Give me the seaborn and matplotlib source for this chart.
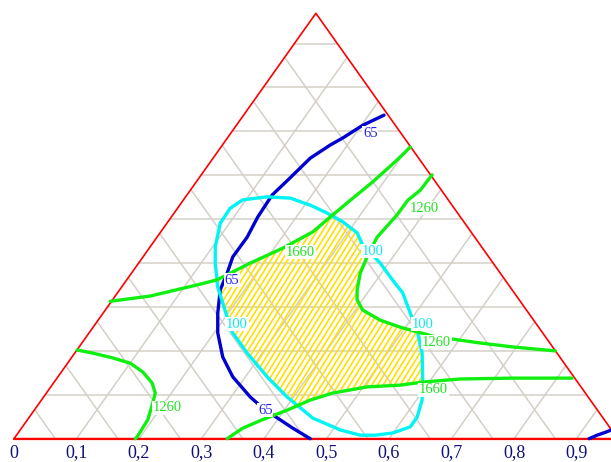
import numpy as np
import matplotlib
matplotlib.use("Agg")
import matplotlib.pyplot as plt
import seaborn as sns
import pandas as pd
from matplotlib.patches import Polygon
from matplotlib.collections import LineCollection

# ---------------- data (x = base scale 0..1, h = fraction of the grid height) ----
tri_x = [0.0, 0.966, 0.483]
tri_h = [0.0, 0.0, 0.969]

grid_levels = [0.1, 0.2, 0.3, 0.4, 0.5, 0.6, 0.7, 0.8, 0.9]
tick_values = [0.0, 0.1, 0.2, 0.3, 0.4, 0.5, 0.6, 0.7, 0.8, 0.9]
tick_labels = ["0", "0,1", "0,2", "0,3", "0,4", "0,5", "0,6", "0,7", "0,8", "0,9"]

# contour 65 (blue)
c65_main_x = [0.592, 0.558, 0.526, 0.506, 0.474, 0.438, 0.413, 0.390, 0.373, 0.350,
              0.341, 0.330, 0.326, 0.326, 0.334, 0.350, 0.378, 0.402, 0.426, 0.446, 0.474]
c65_main_h = [0.737, 0.714, 0.685, 0.669, 0.639, 0.589, 0.555, 0.505, 0.459, 0.414,
              0.377, 0.339, 0.286, 0.241, 0.186, 0.141, 0.095, 0.065, 0.043, 0.024, 0.0]
c65_corner_x = [0.920, 0.933, 0.947, 0.956]
c65_corner_h = [0.0, 0.008, 0.015, 0.020]

# contour 100 (cyan), closed loop
c100_x = [0.341, 0.334, 0.326, 0.322, 0.322, 0.330, 0.346, 0.366, 0.405, 0.442, 0.474,
          0.501, 0.526, 0.549, 0.558, 0.586, 0.606, 0.622, 0.634, 0.646, 0.653, 0.654,
          0.653, 0.645, 0.634, 0.606, 0.578, 0.554, 0.522, 0.478, 0.437, 0.405, 0.373,
          0.350, 0.341]
c100_h = [0.277, 0.309, 0.345, 0.400, 0.437, 0.491, 0.525, 0.544, 0.551, 0.548, 0.532,
          0.514, 0.494, 0.469, 0.441, 0.400, 0.361, 0.332, 0.286, 0.241, 0.195, 0.134,
          0.088, 0.049, 0.027, 0.013, 0.008, 0.008, 0.020, 0.047, 0.095, 0.141, 0.195,
          0.241, 0.277]

# contour 1260 (green)
c1260_left_x = [0.101, 0.126, 0.158, 0.186, 0.206, 0.221, 0.226, 0.222, 0.214, 0.197, 0.194]
c1260_left_h = [0.202, 0.195, 0.184, 0.172, 0.152, 0.127, 0.104, 0.081, 0.043, 0.004, 0.0]
c1260_right_x = [0.669, 0.650, 0.630, 0.613, 0.581, 0.565, 0.554, 0.549, 0.549, 0.558,
                 0.586, 0.618, 0.646, 0.674, 0.701, 0.746, 0.798, 0.866]
c1260_right_h = [0.601, 0.566, 0.543, 0.510, 0.459, 0.414, 0.377, 0.339, 0.316, 0.293,
                 0.270, 0.254, 0.243, 0.232, 0.227, 0.218, 0.209, 0.200]

# contour 1660 (green)
c1660_upper_x = [0.154, 0.218, 0.298, 0.325, 0.350, 0.378, 0.430, 0.478, 0.506, 0.538,
                 0.574, 0.613, 0.634]
c1660_upper_h = [0.313, 0.325, 0.352, 0.362, 0.380, 0.400, 0.434, 0.471, 0.505, 0.543,
                 0.585, 0.635, 0.664]
c1660_lower_x = [0.341, 0.366, 0.397, 0.437, 0.474, 0.510, 0.565, 0.618, 0.654, 0.714,
                 0.798, 0.893]
c1660_lower_h = [0.0, 0.024, 0.043, 0.065, 0.088, 0.104, 0.118, 0.122, 0.129, 0.136,
                 0.138, 0.138]

# hatched feasible region
region_x = [0.326, 0.350, 0.378, 0.430, 0.478, 0.506, 0.526, 0.549, 0.566, 0.554, 0.549,
            0.549, 0.558, 0.586, 0.618, 0.646, 0.653, 0.654, 0.618, 0.565, 0.510, 0.474,
            0.454, 0.437, 0.405, 0.373, 0.350, 0.341, 0.334, 0.326]
region_h = [0.364, 0.380, 0.400, 0.434, 0.471, 0.505, 0.494, 0.469, 0.425, 0.377, 0.339,
            0.316, 0.293, 0.270, 0.254, 0.243, 0.195, 0.131, 0.122, 0.118, 0.104, 0.088,
            0.077, 0.095, 0.141, 0.195, 0.241, 0.277, 0.309, 0.345]

# contour labels
label_text = ["65", "65", "65", "100", "100", "100", "1660", "1260", "1260", "1660", "1260"]
label_x = [0.570, 0.349, 0.402, 0.357, 0.574, 0.654, 0.458, 0.656, 0.676, 0.671, 0.246]
label_h = [0.696, 0.361, 0.065, 0.261, 0.427, 0.261, 0.425, 0.525, 0.220, 0.111, 0.070]
label_kind = ["b", "b", "b", "c", "c", "c", "g", "g", "g", "g", "g"]

# ---------------- styles ----------------
line_colors = {"b": "#0000d0", "c": "#00f4f4", "g": "#10f010"}
text_colors = {"b": "#2424e8", "c": "#10e8f0", "g": "#22e022"}
GRID = "#d4d0c8"
SERIF = ["Liberation Serif", "DejaVu Serif"]

sns.set_style("white")
fig = plt.figure(figsize=(6.11, 4.62), dpi=100)
ax = fig.add_axes([0, 0, 1, 1])
ax.set_xlim(-14 / 625, 597 / 625)
ax.set_ylim((438.7 - 462) / 439, 438.7 / 439)
ax.axis("off")

# ---- grid ----
x_r = tri_x[1]
slope = tri_x[2] / tri_h[2]
for lv in grid_levels:
    ax.plot([slope * lv, x_r - slope * lv], [lv, lv], color=GRID, lw=1.1, zorder=1)
    he = (x_r - lv) / (2 * slope)
    ax.plot([lv, lv + slope * he], [0, he], color=GRID, lw=1.1, zorder=1)
    ax.plot([x_r - lv, slope * he], [0, he], color=GRID, lw=1.1, zorder=1)

# ---- hatched region ----
poly = Polygon(np.column_stack([region_x, region_h]), closed=True,
               facecolor="none", edgecolor="none")
ax.add_patch(poly)
k = np.tan(np.radians(58)) * 625 / 439
segs = [[(c, -0.1), (c + 1.2 / k, 1.1)] for c in np.arange(-0.6, 1.0, 5.6 / 625)]
lc = LineCollection(segs, colors="#ffe000", linewidths=1.2, zorder=2)
lc.set_clip_path(poly)
ax.add_collection(lc)

# ---- triangle ----
ax.plot(tri_x + [tri_x[0]], tri_h + [tri_h[0]], color="#ff0000", lw=1.2, zorder=3)
ax.plot(tri_x[:2], tri_h[:2], color="#ff0000", lw=1.6, zorder=3)

# ---- contour lines ----
series = [
    (c65_main_x, c65_main_h, "b"), (c65_corner_x, c65_corner_h, "b"),
    (c100_x, c100_h, "c"),
    (c1260_left_x, c1260_left_h, "g"), (c1260_right_x, c1260_right_h, "g"),
    (c1660_upper_x, c1660_upper_h, "g"), (c1660_lower_x, c1660_lower_h, "g"),
]
for xs, hs, kind in series:
    df = pd.DataFrame({"x": xs, "h": hs})
    sns.lineplot(data=df, x="x", y="h", sort=False, estimator=None,
                 color=line_colors[kind], lw=2.4, ax=ax, legend=False, zorder=4,
                 solid_capstyle="round", solid_joinstyle="round")

# ---- contour labels ----
for t, x, h, kind in zip(label_text, label_x, label_h, label_kind):
    ax.text(x, h, t, ha="center", va="center", fontsize=10.5, family=SERIF,
            color=text_colors[kind], zorder=6,
            bbox=dict(facecolor="white", edgecolor="none", pad=0.5))

# ---- base tick labels ----
for v, t in zip(tick_values, tick_labels):
    ax.text(v, -0.043, t, ha="center", va="baseline", fontsize=13,
            family=SERIF, color="#10107a", zorder=6)

fig.savefig("out.png", dpi=100)
